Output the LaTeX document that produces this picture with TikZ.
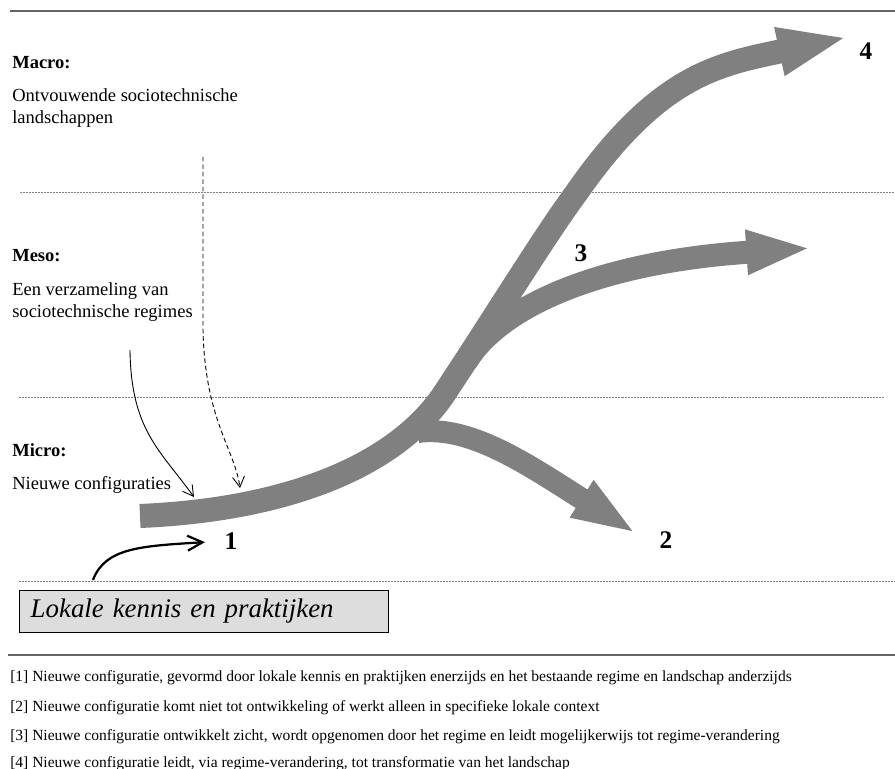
\documentclass[tikz,border=0pt]{standalone}
\usepackage{fontspec}
\setmainfont{Liberation Serif}
\usetikzlibrary{arrows.meta}
\definecolor{flow}{RGB}{128,128,128}
\definecolor{rulegray}{RGB}{100,100,100}
\definecolor{boxfill}{RGB}{221,221,221}
\tikzset{
  level/.style={font=\bfseries\fontsize{12.4}{15}\selectfont,anchor=base west,inner sep=0pt},
  desc/.style={font=\fontsize{12.4}{15}\selectfont,anchor=base west,inner sep=0pt,align=left},
  num/.style={font=\bfseries\fontsize{17}{20}\selectfont,inner sep=0pt},
  note/.style={font=\fontsize{10.4}{12}\selectfont,anchor=base west,inner sep=0pt},
  sep/.style={rulegray,line width=1.3pt},
  lane/.style={gray,line width=0.6pt,dash pattern=on 0.5pt off 0.5pt},
  trunk/.style={flow,line width=16.1pt},
  feed/.style={line width=0.6pt,-{Straight Barb[length=7pt,width=8pt]}},
  source/.style={rectangle,draw=black,line width=0.7pt,fill=boxfill,
    minimum width=247pt,minimum height=28pt,inner xsep=7.4pt,
    text width=232pt,align=left,font=\itshape\fontsize{18}{21}\selectfont}
}
\begin{document}
\begin{tikzpicture}[x=0.67pt,y=-0.67pt]
\useasboundingbox (0,0) rectangle (895,769);
% separators and level borders
\draw[sep] (10,11) -- (895,11);
\draw[lane] (20,192) -- (895,192);
\draw[lane] (19,397) -- (884,397);
\draw[lane] (19,581) -- (895,581);
\draw[sep] (8,655) -- (895,655);
% levels (two-line texts sit on their last baseline)
\node[level] (macro) at (12,69) {Macro:};
\node[desc] (macrotxt) at (12,124) {Ontvouwende sociotechnische\\landschappen};
\node[level] (meso) at (12,262) {Meso:};
\node[desc] (mesotxt) at (12,318) {Een verzameling van\\sociotechnische regimes};
\node[level] (micro) at (12,457) {Micro:};
\node[desc] (microtxt) at (12,490) {Nieuwe configuraties};
% trajectories
\coordinate (root) at (140,516);
\coordinate (bend) at (442,397);
\coordinate (knee) at (577,192);
\coordinate (tip4) at (848,37);
\coordinate (fork3) at (466,362);
\coordinate (tip3) at (812,248);
\coordinate (fork2) at (418,432);
\coordinate (tip2) at (637,534);
\draw[trunk,-{Triangle[length=47pt,width=29.5pt]}] (root)
  .. controls (280,510) and (390,470) .. (bend)
  .. controls (490,325) and (545,235) .. (knee)
  .. controls (660,73) and (721,64) .. (tip4);
\draw[trunk,line width=15.4pt,-{Triangle[length=44pt,width=26.8pt]}] (fork3)
  .. controls (500,306) and (600,262) .. (tip3);
\draw[trunk,line width=14.7pt,-{Triangle[length=44pt,width=26pt]}] (fork2)
  .. controls (470,425) and (527,464) .. (tip2);
\node[num] (n1) at (231,541) {1};
\node[num] (n2) at (666,540) {2};
\node[num] (n3) at (581,253) {3};
\node[num] (n4) at (866,51) {4};
% influences from regime and landscape
\coordinate (regime) at (130,350);
\coordinate (hit1) at (194,497);
\coordinate (land) at (203,157);
\coordinate (hit2) at (240,488);
\draw[feed] (regime) .. controls (131,430) and (160,450) .. (hit1);
\draw[feed,dash pattern=on 3pt off 2pt] (land) -- (203,330)
  .. controls (205,420) and (235,450) .. (hit2);
% local knowledge
\node[source,anchor=north west] (local) at (19,590) {Lokale kennis en praktijken};
\coordinate (lift) at (93,580);
\draw[line width=1.5pt,shorten >=13pt,-{Straight Barb[length=10pt,width=10pt]}] (lift)
  .. controls (105,548) and (140,546) .. (n1.west);
% notes
\node[note] (note1) at (10,682) {[1] Nieuwe configuratie, gevormd door lokale kennis en praktijken enerzijds en het bestaande regime en landschap anderzijds};
\node[note] (note2) at (10,711) {[2] Nieuwe configuratie komt niet tot ontwikkeling of werkt alleen in specifieke lokale context};
\node[note] (note3) at (10,740) {[3] Nieuwe configuratie ontwikkelt zicht, wordt opgenomen door het regime en leidt mogelijkerwijs tot regime-verandering};
\node[note] (note4) at (10,767) {[4] Nieuwe configuratie leidt, via regime-verandering, tot transformatie van het landschap};
\end{tikzpicture}
\end{document}
